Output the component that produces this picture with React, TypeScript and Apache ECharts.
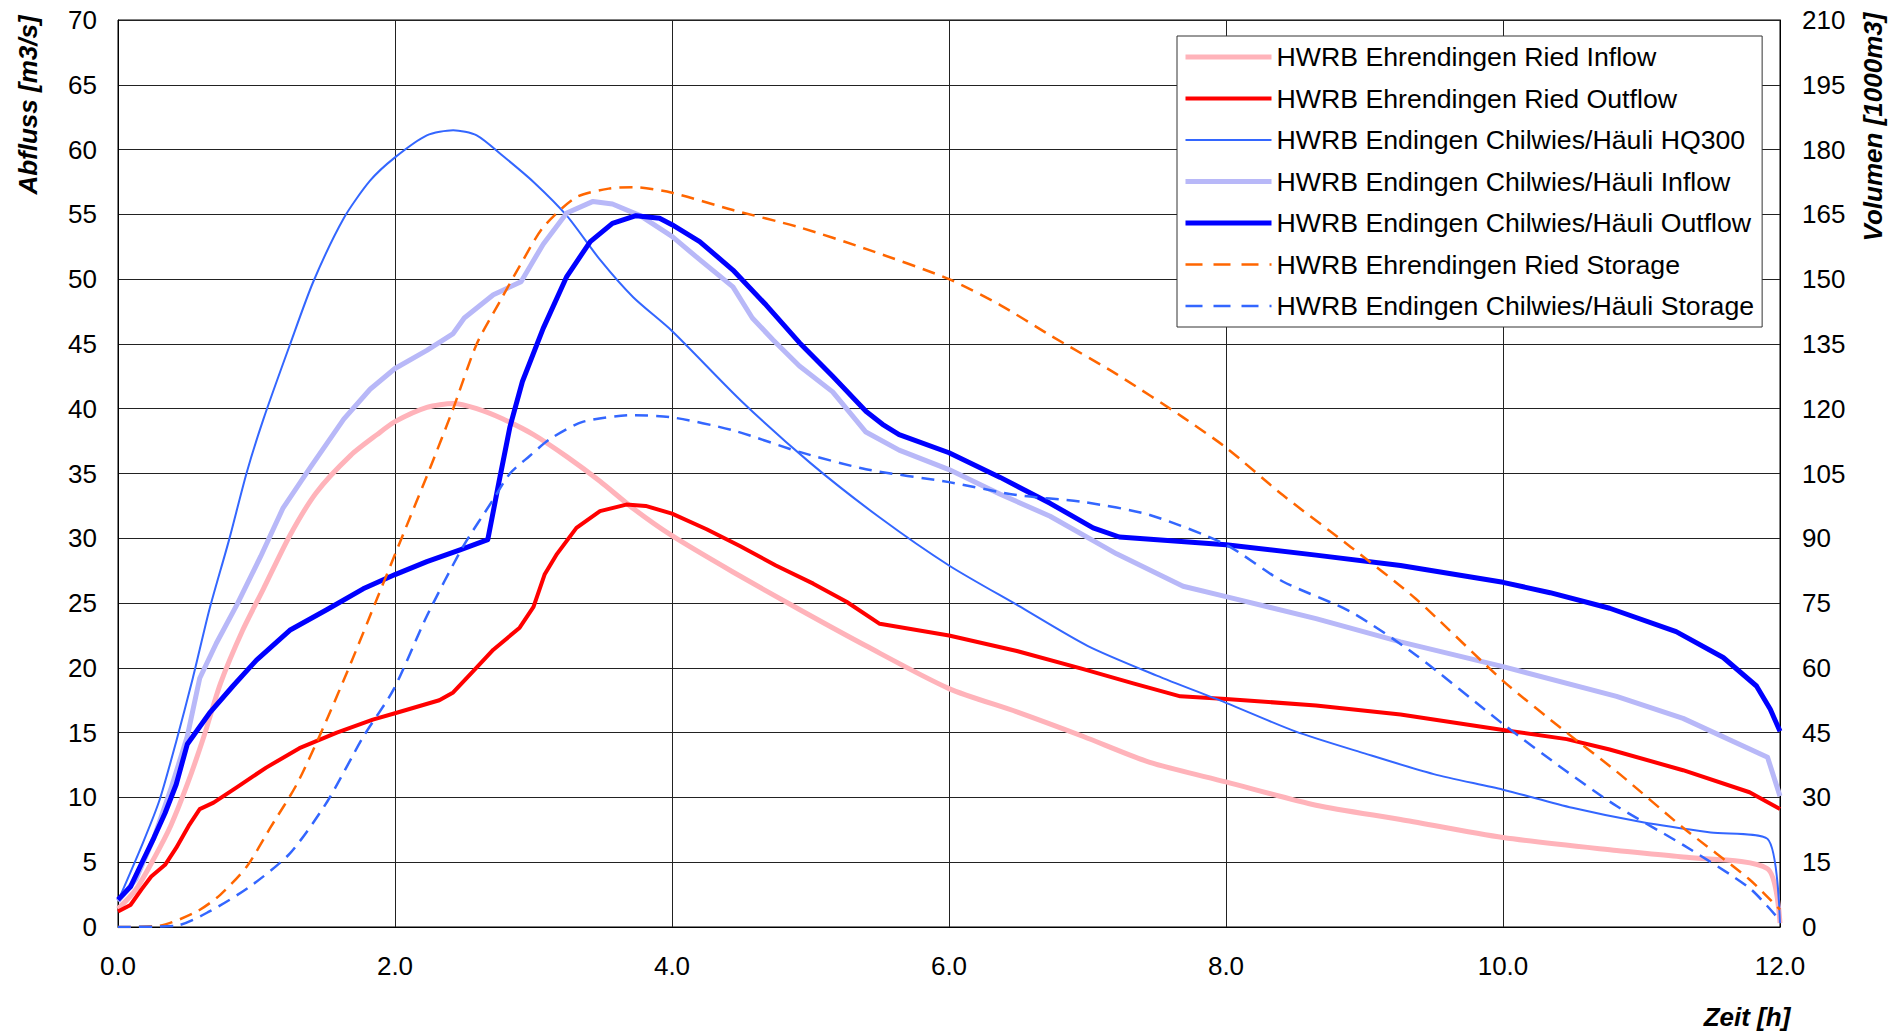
import React, { useEffect, useRef } from "react";
import * as echarts from "echarts";

// time [h], discharge [m3/s]
const riedInflow: number[][] = [
  [0, 1.4], [0.13, 2.9], [0.26, 5.3], [0.38, 7.8], [0.5, 11.0], [0.62, 14.7], [0.74, 18.8], [0.9, 22.9],
  [1.05, 26.1], [1.24, 30.2], [1.43, 33.5], [1.68, 36.4], [1.87, 38.0], [2.0, 39.0], [2.23, 40.1],
  [2.42, 40.4], [2.59, 40.0], [2.78, 39.2], [3.0, 38.0], [3.24, 36.3], [3.48, 34.4], [3.72, 32.3],
  [4.0, 30.2], [4.44, 27.4], [4.92, 24.5], [5.4, 21.7], [6.0, 18.4], [6.49, 16.6], [6.97, 14.7],
  [7.45, 12.7], [8.0, 11.2], [8.65, 9.4], [9.26, 8.3], [10.0, 6.9], [10.82, 5.9], [11.3, 5.4],
  [11.91, 4.5], [12.0, 0.3],
];
const riedOutflow: number[][] = [
  [0, 1.2], [0.09, 1.7], [0.17, 2.9], [0.24, 3.9], [0.34, 4.8], [0.42, 6.1], [0.51, 7.8], [0.59, 9.1],
  [0.69, 9.6], [0.86, 10.8], [1.07, 12.3], [1.31, 13.8], [1.58, 15.0], [1.84, 16.0], [2.0, 16.5],
  [2.16, 17.0], [2.32, 17.5], [2.42, 18.1], [2.57, 19.8], [2.71, 21.4], [2.9, 23.1], [3.0, 24.7],
  [3.08, 27.2], [3.17, 28.8], [3.31, 30.8], [3.48, 32.1], [3.67, 32.6], [3.81, 32.5], [4.0, 31.9],
  [4.25, 30.7], [4.49, 29.4], [4.75, 27.9], [5.02, 26.5], [5.26, 25.1], [5.5, 23.4], [6.0, 22.5],
  [6.49, 21.3], [6.97, 19.9], [7.33, 18.8], [7.67, 17.8], [8.0, 17.6], [8.65, 17.1], [9.26, 16.4],
  [10.0, 15.2], [10.46, 14.5], [10.77, 13.7], [11.3, 12.1], [11.78, 10.4], [12.0, 9.1],
];
const hq300: number[][] = [
  [0, 2.0], [0.18, 6.5], [0.3, 9.8], [0.42, 14.3], [0.54, 19.2], [0.66, 24.5], [0.8, 29.8], [0.93, 35.1],
  [1.05, 39.2], [1.24, 44.9], [1.41, 49.8], [1.63, 54.7], [1.82, 57.6], [2.0, 59.4], [2.23, 61.1],
  [2.42, 61.5], [2.59, 61.1], [2.78, 59.5], [3.0, 57.5], [3.24, 54.9], [3.48, 51.5], [3.72, 48.6],
  [4.0, 46.0], [4.5, 40.6], [5.0, 35.8], [5.5, 31.6], [6.0, 27.9], [6.5, 24.8], [7.0, 21.7],
  [7.5, 19.4], [8.0, 17.3], [8.5, 15.1], [9.0, 13.4], [9.5, 11.8], [10.0, 10.6], [10.5, 9.2],
  [11.0, 8.1], [11.5, 7.3], [11.91, 6.8], [12.0, 0.3],
];
const chilwiesInflow: number[][] = [
  [0, 2.0], [0.13, 3.7], [0.26, 6.9], [0.38, 10.6], [0.5, 14.7], [0.59, 19.2], [0.71, 21.9], [0.86, 24.9],
  [1.03, 28.6], [1.19, 32.3], [1.39, 35.5], [1.63, 39.2], [1.82, 41.5], [2.0, 43.1], [2.23, 44.5],
  [2.42, 45.8], [2.5, 47.0], [2.71, 48.8], [2.91, 49.8], [3.07, 52.7], [3.24, 55.1], [3.43, 56.0],
  [3.57, 55.8], [3.77, 54.9], [4.0, 53.3], [4.2, 51.5], [4.44, 49.4], [4.58, 47.0], [4.73, 45.3],
  [4.92, 43.3], [5.16, 41.3], [5.4, 38.2], [5.64, 36.8], [6.0, 35.3], [6.37, 33.4], [6.73, 31.7],
  [7.21, 28.8], [7.69, 26.3], [8.0, 25.5], [8.65, 23.8], [9.26, 22.0], [10.0, 20.1], [10.82, 17.8],
  [11.3, 16.1], [11.91, 13.1], [12.0, 10.1],
];
const chilwiesOutflow: number[][] = [
  [0, 2.1], [0.09, 3.1], [0.17, 4.9], [0.26, 6.9], [0.34, 8.8], [0.42, 11.0], [0.5, 14.1], [0.66, 16.5],
  [0.83, 18.6], [1.0, 20.6], [1.24, 22.9], [1.51, 24.5], [1.77, 26.1], [2.0, 27.2], [2.23, 28.2],
  [2.47, 29.1], [2.67, 29.9], [2.75, 34.3], [2.83, 38.6], [2.92, 42.1], [3.07, 46.2], [3.24, 50.2],
  [3.41, 52.9], [3.57, 54.3], [3.74, 54.9], [3.91, 54.7], [4.0, 54.2], [4.2, 52.9], [4.44, 50.7],
  [4.68, 48.0], [4.92, 45.1], [5.16, 42.5], [5.4, 39.8], [5.52, 38.8], [5.64, 38.0], [6.0, 36.6],
  [6.37, 34.7], [6.73, 32.7], [7.04, 30.8], [7.23, 30.1], [8.0, 29.5], [8.65, 28.7], [9.26, 27.9],
  [10.0, 26.6], [10.34, 25.8], [10.77, 24.6], [11.25, 22.8], [11.59, 20.8], [11.83, 18.6],
  [11.93, 16.8], [12.0, 15.1],
];
// time [h], volume [1000 m3]
const riedStorage: number[][] = [
  [0, 0], [0.3, 0.3], [0.57, 3.6], [0.74, 7.5], [0.93, 14], [1.1, 23], [1.29, 33], [1.48, 46],
  [1.68, 61], [1.87, 76], [2.06, 91], [2.25, 106], [2.42, 120], [2.59, 135], [2.76, 145], [2.9, 153],
  [3.07, 162], [3.31, 169], [3.55, 171], [3.72, 171.3], [4.0, 170], [4.44, 166], [4.92, 162],
  [5.4, 157], [6.0, 150], [6.37, 144], [6.73, 137], [7.21, 128], [7.69, 118], [8.0, 111], [8.41, 100],
  [8.9, 88], [9.37, 76], [10.0, 57], [10.46, 45], [10.82, 36], [11.3, 23], [11.78, 11], [12.0, 4],
];
const chilwiesStorage: number[][] = [
  [0, 0], [0.42, 0.3], [0.66, 3.6], [0.95, 9.3], [1.24, 17], [1.51, 29], [1.77, 44], [1.99, 55],
  [2.23, 72], [2.49, 88], [2.71, 99], [2.83, 105], [2.97, 109], [3.12, 113], [3.36, 117],
  [3.72, 118.5], [4.0, 118], [4.44, 115], [4.92, 110], [5.4, 106], [6.0, 103], [6.49, 100],
  [6.97, 98.4], [7.45, 95.4], [8.0, 88.5], [8.41, 80], [8.9, 73], [9.37, 63], [10.0, 47],
  [10.46, 36], [10.82, 28], [11.3, 19], [11.78, 9], [12.0, 1.5],
];

const seriesNames = [
  "HWRB Ehrendingen Ried Inflow",
  "HWRB Ehrendingen Ried Outflow",
  "HWRB Endingen Chilwies/Häuli HQ300",
  "HWRB Endingen Chilwies/Häuli Inflow",
  "HWRB Endingen Chilwies/Häuli Outflow",
  "HWRB Ehrendingen Ried Storage",
  "HWRB Endingen Chilwies/Häuli Storage",
];
const xAxisName = "Zeit [h]";
const leftAxisName = "Abfluss [m3/s]";
const rightAxisName = "Volumen [1000m3]";

const FONT = '"Liberation Sans", Arial, sans-serif';

const seriesColors = ["#FFB3BA", "#FF0000", "#3366FF", "#B8B8F8", "#0000FF", "#FF6600", "#3366FF"];
const seriesWidths = [5, 4, 2, 5, 5, 2.5, 2.5];
const seriesDashed = [false, false, false, false, false, true, true];
const seriesSmooth = [0.25, 0, 0.25, 0, 0, 0.25, 0.25];

export default function App() {
  const ref = useRef<HTMLDivElement>(null);
  useEffect(() => {
    if (!ref.current) return;
    const chart = echarts.init(ref.current, null, { renderer: "svg" });
    const datasets = [riedInflow, riedOutflow, hq300, chilwiesInflow, chilwiesOutflow, riedStorage, chilwiesStorage];
    const axisIdx = [0, 0, 0, 0, 0, 1, 1];
    const series = seriesNames.map((name, i) => ({
      name,
      type: "line",
      data: datasets[i],
      yAxisIndex: axisIdx[i],
      symbol: "none",
      showSymbol: false,
      smooth: seriesSmooth[i] > 0 ? seriesSmooth[i] : false,
      lineStyle: {
        color: seriesColors[i],
        width: seriesWidths[i],
        type: seriesDashed[i] ? [13, 8] : "solid",
        cap: "butt",
        join: "round",
      },
      itemStyle: { color: seriesColors[i] },
      emphasis: { disabled: true },
    }));
    chart.setOption({
      animation: false,
      backgroundColor: "#ffffff",
      textStyle: { fontFamily: FONT },
      grid: {
        left: 118,
        right: 124,
        top: 20,
        bottom: 108,
        show: true,
        borderColor: "#000",
        borderWidth: 1,
        containLabel: false,
      },
      legend: {
        show: true,
        orient: "vertical",
        left: 1177,
        top: 36,
        backgroundColor: "#ffffff",
        borderColor: "#333",
        borderWidth: 1,
        padding: [6, 8, 6, 6],
        itemWidth: 86,
        itemHeight: 14,
        itemGap: 11.5,
        itemStyle: { opacity: 0 },
        textStyle: { fontSize: 26.7, color: "#000", fontFamily: FONT, lineHeight: 30 },
        data: seriesNames.map((name, i) => ({
          name,
          itemStyle: { opacity: 0 },
          lineStyle: {
            width: seriesWidths[i],
            color: seriesColors[i],
            type: seriesDashed[i] ? [17, 11] : "solid",
          },
        })),
        selectedMode: false,
      },
      xAxis: {
        type: "value",
        min: 0,
        max: 12,
        interval: 2,
        axisLine: { show: true, lineStyle: { color: "#000", width: 1 } },
        axisTick: { show: false },
        axisLabel: {
          fontSize: 26,
          color: "#000",
          fontFamily: FONT,
          margin: 26,
          formatter: (v: number) => v.toFixed(1),
        },
        splitLine: { show: true, lineStyle: { color: "#222", width: 1 } },
      },
      yAxis: [
        {
          type: "value",
          min: 0,
          max: 70,
          interval: 5,
          axisLine: { show: true, lineStyle: { color: "#000", width: 1 } },
          axisTick: { show: false },
          axisLabel: { fontSize: 26, color: "#000", fontFamily: FONT, margin: 21 },
          splitLine: { show: true, lineStyle: { color: "#222", width: 1 } },
        },
        {
          type: "value",
          min: 0,
          max: 210,
          interval: 15,
          position: "right",
          axisLine: { show: true, lineStyle: { color: "#000", width: 1 } },
          axisTick: { show: false },
          axisLabel: { fontSize: 26, color: "#000", fontFamily: FONT, margin: 22 },
          splitLine: { show: false },
        },
      ],
      graphic: [
        {
          type: "text",
          x: 28,
          y: 105,
          rotation: Math.PI / 2,
          style: {
            text: leftAxisName,
            fontSize: 26,
            fontWeight: "bold",
            fontStyle: "italic",
            fontFamily: FONT,
            fill: "#000",
            align: "center",
            verticalAlign: "middle",
          },
        },
        {
          type: "text",
          x: 1873,
          y: 127,
          rotation: Math.PI / 2,
          style: {
            text: rightAxisName,
            fontSize: 26,
            fontWeight: "bold",
            fontStyle: "italic",
            fontFamily: FONT,
            fill: "#000",
            align: "center",
            verticalAlign: "middle",
          },
        },
        {
          type: "text",
          x: 1747,
          y: 1017,
          style: {
            text: xAxisName,
            fontSize: 26,
            fontWeight: "bold",
            fontStyle: "italic",
            fontFamily: FONT,
            fill: "#000",
            align: "center",
            verticalAlign: "middle",
          },
        },
      ],
      series,
    });
    return () => chart.dispose();
  }, []);
  return (
    <div
      ref={ref}
      style={{ position: "fixed", left: 0, top: 0, width: 1904, height: 1035, background: "#fff" }}
    />
  );
}
